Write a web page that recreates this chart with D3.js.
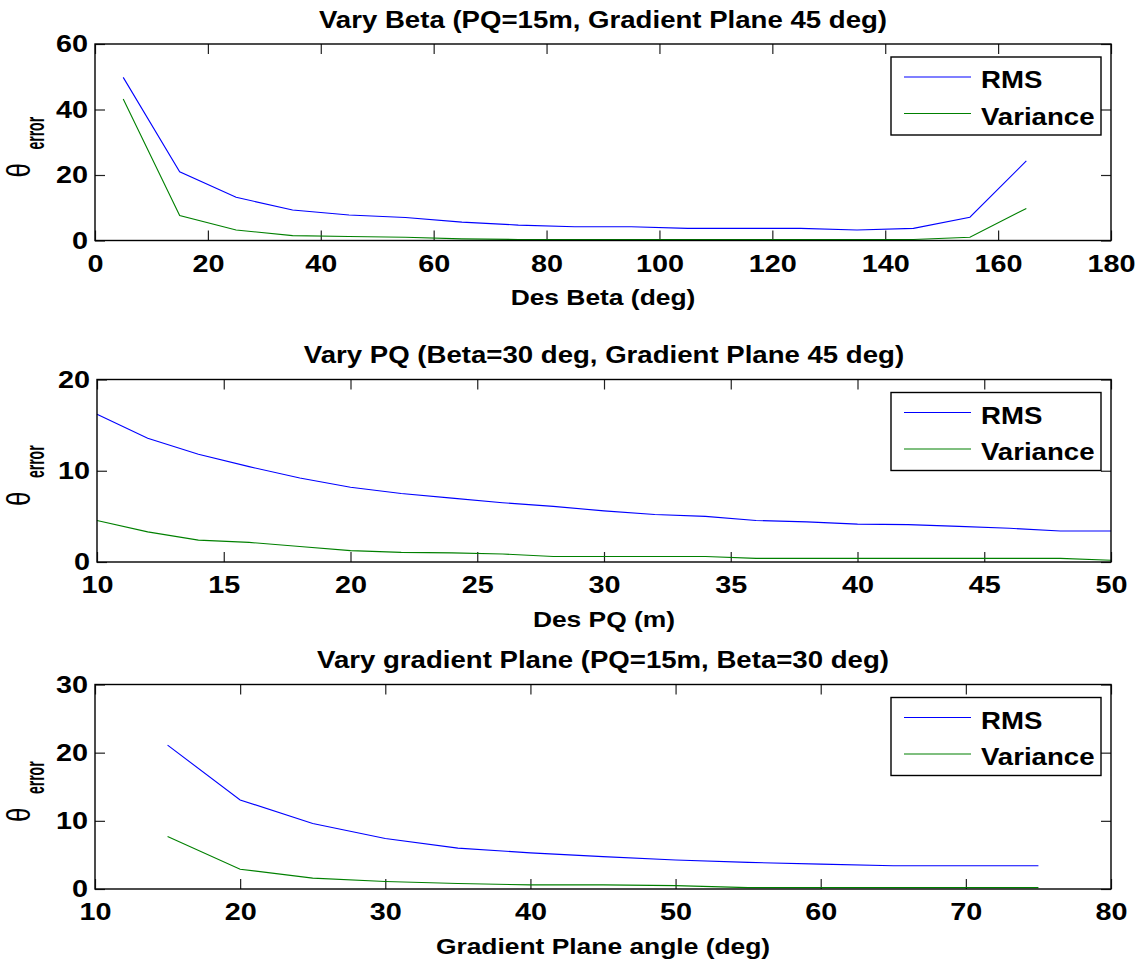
<!DOCTYPE html>
<html>
<head>
<meta charset="utf-8">
<script src="https://cdn.jsdelivr.net/npm/d3@7"></script>
<style>
  html, body { margin: 0; padding: 0; background: #fff; }
  svg { display: block; font-family: "Liberation Sans", Arial, Helvetica, sans-serif; }
</style>
</head>
<body>
<svg id="chart" width="1147" height="962"></svg>
<script>
// ---- Panel 1: vary beta ----
const betaX = [5, 15, 25, 35, 45, 55, 65, 75, 85, 95, 105, 115, 125, 135, 145, 155, 165];
const betaRMS = [49.8, 21.0, 13.2, 9.3, 7.8, 7.0, 5.6, 4.7, 4.2, 4.2, 3.7, 3.7, 3.7, 3.2, 3.7, 7.1, 24.3];
const betaVar = [43.2, 7.6, 3.2, 1.5, 1.2, 1.0, 0.5, 0.3, 0.3, 0.3, 0.3, 0.3, 0.3, 0.3, 0.3, 1.0, 9.8];
const betaXTicks = [0, 20, 40, 60, 80, 100, 120, 140, 160, 180];
const betaYTicks = [0, 20, 40, 60];

// ---- Panel 2: vary PQ ----
const pqX = [10, 12, 14, 16, 18, 20, 22, 24, 26, 28, 30, 32, 34, 36, 38, 40, 42, 44, 46, 48, 50];
const pqRMS = [16.2, 13.55, 11.8, 10.45, 9.2, 8.2, 7.5, 7.0, 6.5, 6.1, 5.6, 5.2, 5.0, 4.55, 4.4, 4.15, 4.1, 3.9, 3.7, 3.4, 3.4];
const pqVar = [4.55, 3.3, 2.4, 2.15, 1.7, 1.25, 1.05, 1.0, 0.87, 0.6, 0.6, 0.6, 0.6, 0.4, 0.4, 0.4, 0.4, 0.4, 0.4, 0.4, 0.2];
const pqXTicks = [10, 15, 20, 25, 30, 35, 40, 45, 50];
const pqYTicks = [0, 10, 20];

// ---- Panel 3: vary gradient plane angle ----
const gpX = [15, 20, 25, 30, 35, 40, 45, 50, 55, 60, 65, 70, 75];
const gpRMS = [21.1, 13.07, 9.6, 7.4, 6.0, 5.3, 4.75, 4.25, 3.9, 3.65, 3.4, 3.4, 3.4];
const gpVar = [7.7, 2.9, 1.6, 1.1, 0.8, 0.6, 0.6, 0.5, 0.2, 0.2, 0.2, 0.2, 0.2];
const gpXTicks = [10, 20, 30, 40, 50, 60, 70, 80];
const gpYTicks = [0, 10, 20, 30];

const seriesNames = ["RMS", "Variance"];
const seriesColors = ["#0000ff", "#008000"];

const panels = [
  { title: "Vary Beta (PQ=15m, Gradient Plane 45 deg)", xlabel: "Des Beta (deg)",
    x: betaX, ys: [betaRMS, betaVar], xd: [0, 180], yd: [0, 60], xt: betaXTicks, yt: betaYTicks,
    box: { l: 95, r: 1111, t: 44, b: 240.5 } },
  { title: "Vary PQ (Beta=30 deg, Gradient Plane 45 deg)", xlabel: "Des PQ (m)",
    x: pqX, ys: [pqRMS, pqVar], xd: [10, 50], yd: [0, 20], xt: pqXTicks, yt: pqYTicks,
    box: { l: 97, r: 1111, t: 379.5, b: 562 } },
  { title: "Vary gradient Plane (PQ=15m, Beta=30 deg)", xlabel: "Gradient Plane angle (deg)",
    x: gpX, ys: [gpRMS, gpVar], xd: [10, 80], yd: [0, 30], xt: gpXTicks, yt: gpYTicks,
    box: { l: 95, r: 1111, t: 684.5, b: 889 } }
];

const svg = d3.select("#chart");
const tickLen = 10;
const fontTick = 24;
const fontText = 23;
const wide = 1.2; // horizontal widening of the bold labels

// widen a text element horizontally around its own anchor x
function widen(sel) {
  sel.each(function () {
    const t = d3.select(this);
    const ax = +(t.attr("x") || 0);
    t.attr("transform", `translate(${ax},0) scale(${wide},1) translate(${-ax},0)`);
  });
}

panels.forEach(p => {
  const { l, r, t, b } = p.box;
  const x = d3.scaleLinear().domain(p.xd).range([l, r]);
  const y = d3.scaleLinear().domain(p.yd).range([b, t]);
  const g = svg.append("g");

  // axes: ticks point inward, mirrored on top/right
  const bottom = g.append("g").attr("transform", `translate(0,${b})`)
    .call(d3.axisBottom(x).tickValues(p.xt).tickSizeInner(-tickLen).tickSizeOuter(0).tickPadding(14));
  const top = g.append("g").attr("transform", `translate(0,${t})`)
    .call(d3.axisTop(x).tickValues(p.xt).tickSizeInner(-tickLen).tickSizeOuter(0).tickFormat(""));
  const left = g.append("g").attr("transform", `translate(${l},0)`)
    .call(d3.axisLeft(y).tickValues(p.yt).tickSizeInner(-tickLen).tickSizeOuter(0).tickPadding(7));
  const right = g.append("g").attr("transform", `translate(${r},0)`)
    .call(d3.axisRight(y).tickValues(p.yt).tickSizeInner(-tickLen).tickSizeOuter(0).tickFormat(""));

  [bottom, top, left, right].forEach(a => {
    a.select(".domain").remove();
    a.selectAll(".tick line").attr("stroke", "#222").attr("stroke-width", 1.2);
    a.selectAll(".tick text").attr("fill", "#000").attr("font-size", fontTick)
      .attr("font-weight", "bold").attr("font-family", "Liberation Sans, Arial, sans-serif");
  });
  bottom.selectAll(".tick text").attr("dy", "0.71em");
  widen(bottom.selectAll(".tick text"));
  widen(left.selectAll(".tick text"));

  // series lines
  const line = d3.line().x((d, i) => x(p.x[i])).y(d => y(d));
  p.ys.forEach((vals, k) => {
    g.append("path").datum(vals)
      .attr("fill", "none").attr("stroke", seriesColors[k]).attr("stroke-width", 1.1)
      .attr("d", line);
  });

  // frame
  g.append("rect").attr("x", l).attr("y", t).attr("width", r - l).attr("height", b - t)
    .attr("fill", "none").attr("stroke", "#000").attr("stroke-width", 1.4);

  // legend
  const lg = g.append("g");
  const lx0 = 891, lx1 = 1101, ly0 = t + 13, ly1 = t + 91;
  lg.append("rect").attr("x", lx0).attr("y", ly0).attr("width", lx1 - lx0).attr("height", ly1 - ly0)
    .attr("fill", "#fff").attr("stroke", "#000").attr("stroke-width", 1.4);
  seriesNames.forEach((name, k) => {
    const yy = ly0 + 20 + k * 36.5;
    lg.append("line").attr("x1", 904).attr("x2", 971).attr("y1", yy).attr("y2", yy)
      .attr("stroke", seriesColors[k]).attr("stroke-width", 1.1);
    lg.append("text").attr("x", 981).attr("y", yy + 3).attr("dy", "0.36em")
      .attr("font-size", fontText).attr("font-weight", "bold").text(name)
      .call(widen);
  });

  // title
  g.append("text").attr("x", (l + r) / 2).attr("y", t - 16)
    .attr("text-anchor", "middle").attr("font-size", fontText).attr("font-weight", "bold")
    .text(p.title).call(widen);

  // x label
  g.append("text").attr("x", (l + r) / 2).attr("y", b + 65)
    .attr("text-anchor", "middle").attr("font-size", 22).attr("font-weight", "bold")
    .text(p.xlabel).call(widen);

  // y label: theta with subscript "error", written bottom-to-top
  const cy = (t + b) / 2;
  g.append("text")
    .attr("transform", `translate(30,${cy + 28}) scale(1.25,1) rotate(-90)`)
    .attr("text-anchor", "middle").attr("font-size", 26).text("θ");
  g.append("text")
    .attr("transform", `translate(44,${cy - 9}) scale(1.9,1) rotate(-90)`)
    .attr("text-anchor", "middle").attr("font-size", 14).attr("font-weight", "bold").text("error");
});
</script>
</body>
</html>
